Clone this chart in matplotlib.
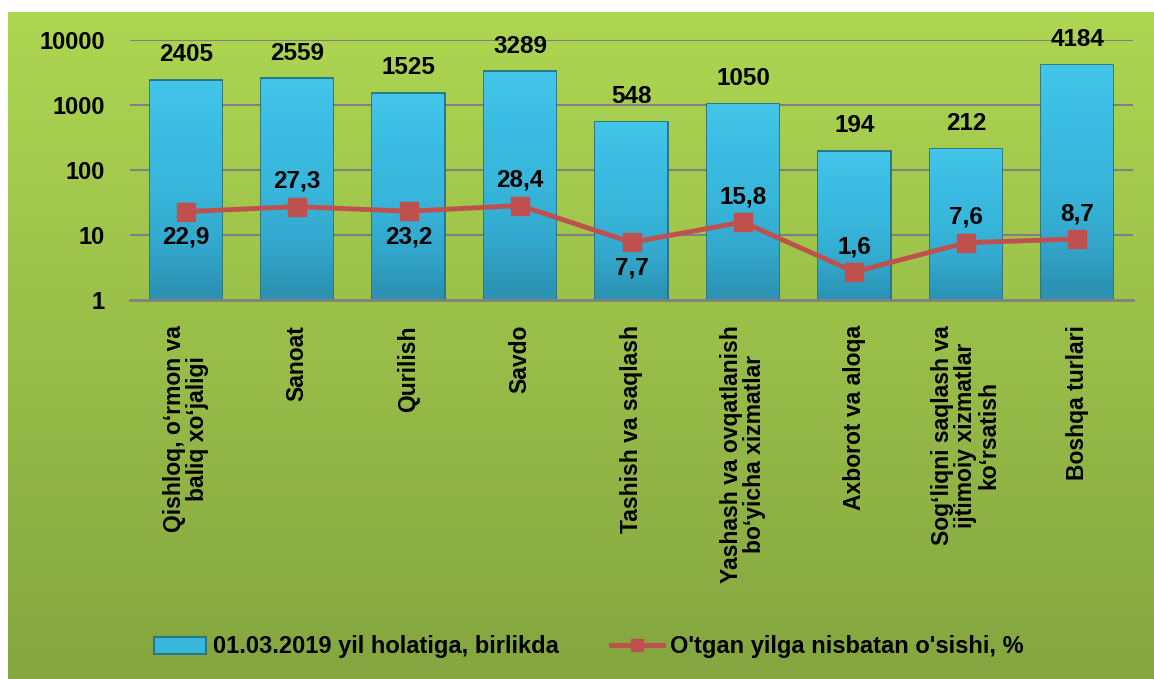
import numpy as np
import matplotlib.pyplot as plt
from matplotlib.colors import LinearSegmentedColormap
from matplotlib.ticker import FixedLocator, FixedFormatter

plt.rcParams['font.family'] = ['Liberation Sans', 'DejaVu Sans']

# Data
categories = [
    "Qishloq, o\u2018rmon va\nbaliq xo\u2018jaligi",
    "Sanoat",
    "Qurilish",
    "Savdo",
    "Tashish va saqlash",
    "Yashash va ovqatlanish\nbo\u2018yicha xizmatlar",
    "Axborot va aloqa",
    "Sog\u2018liqni saqlash va\nijtimoiy xizmatlar\nko\u2018rsatish",
    "Boshqa turlari",
]
units = [2405, 2559, 1525, 3289, 548, 1050, 194, 212, 4184]
growth = [22.9, 27.3, 23.2, 28.4, 7.7, 15.8, 2.7, 7.6, 8.7]  # plotted positions
growth_labels = ["22,9", "27,3", "23,2", "28,4", "7,7", "15,8", "1,6", "7,6", "8,7"]
label_above = [False, True, False, True, False, True, True, True, True]
yticks = [1, 10, 100, 1000, 10000]

fig = plt.figure(figsize=(11.54, 6.79), dpi=100)

# green gradient panel behind everything
bg = fig.add_axes([8 / 1154, 0, 1 - 8 / 1154, 1 - 12 / 679], zorder=-10)
grad = np.linspace(0, 1, 256).reshape(-1, 1)
top_c = np.array([0.68, 0.84, 0.32])
bot_c = np.array([0.52, 0.65, 0.25])
img = top_c + (bot_c - top_c) * grad[:, :, None]
bg.imshow(img, aspect='auto', extent=[0, 1, 0, 1], origin='upper')
bg.axis('off')

ax = fig.add_axes([130 / 1154, 1 - 300 / 679, (1133 - 130) / 1154, 260 / 679])
ax.patch.set_alpha(0)
x = np.arange(len(categories))

ax.set_yscale('log')

for t in yticks[1:]:
    ax.axhline(t, color='#808080', lw=1.5, zorder=0)

bars = ax.bar(x, units, width=0.65, bottom=1, color='#38b6dc',
              edgecolor='#1d6a85', linewidth=1.2, zorder=2,
              label='01.03.2019 yil holatiga, birlikda')

# vertical shading inside each bar (even on the log scale)
bar_cmap = LinearSegmentedColormap.from_list(
    'b', ['#2b92b3', '#33a8cd', '#38b6dc', '#3bbce2', '#44c5ea'])
for rect in bars:
    x0, w, h = rect.get_x(), rect.get_width(), rect.get_height()
    ys = np.linspace(1, 1 + h, 4000)
    shade = (np.log(ys) / np.log(1 + h)).reshape(-1, 1)
    im = ax.imshow(shade, extent=[x0, x0 + w, 1, 1 + h], aspect='auto',
                   cmap=bar_cmap, origin='lower', zorder=2.1)
    im.set_clip_path(rect)

line, = ax.plot(x, growth, color='#c0504d', lw=3.5, marker='s', markersize=13,
                zorder=3, label="O'tgan yilga nisbatan o'sishi, %")

ax.set_ylim(1, 10000)
ax.set_xlim(-0.5, len(categories) - 0.5)
ax.set_aspect('auto')

for i, v in enumerate(units):
    ax.annotate(str(v), (x[i], v), xytext=(0, 10), textcoords='offset points',
                ha='center', va='bottom', fontsize=17.5, fontweight='bold')

for i, v in enumerate(growth):
    off = 10 if label_above[i] else -10
    ax.annotate(growth_labels[i], (x[i], v), xytext=(0, off),
                textcoords='offset points', ha='center',
                va='bottom' if label_above[i] else 'top',
                fontsize=17.5, fontweight='bold', zorder=4)

ax.yaxis.set_major_locator(FixedLocator(yticks))
ax.yaxis.set_major_formatter(FixedFormatter([str(t) for t in yticks]))
ax.yaxis.set_minor_locator(FixedLocator([]))
ax.tick_params(axis='y', length=0, pad=18, labelsize=17)
for lbl in ax.get_yticklabels():
    lbl.set_fontweight('bold')

ax.set_xticks(x)
ax.set_xticklabels(categories, rotation=90, fontsize=16.5, fontweight='bold',
                   ha='center', va='top', multialignment='center',
                   linespacing=1.0)
ax.tick_params(axis='x', length=0, pad=18)

for s in ['top', 'right', 'left']:
    ax.spines[s].set_visible(False)
ax.spines['bottom'].set_color('#808080')
ax.spines['bottom'].set_linewidth(2)

leg = fig.legend(handles=[bars, line], loc='center',
                 bbox_to_anchor=(0.51, 1 - 647 / 679), ncol=2,
                 frameon=False, columnspacing=2.2, handlelength=2.2,
                 handletextpad=0.3,
                 prop={'weight': 'bold', 'size': 17})
leg.legend_handles[1].set_markersize(9)

fig.savefig('out.png', dpi=100)
